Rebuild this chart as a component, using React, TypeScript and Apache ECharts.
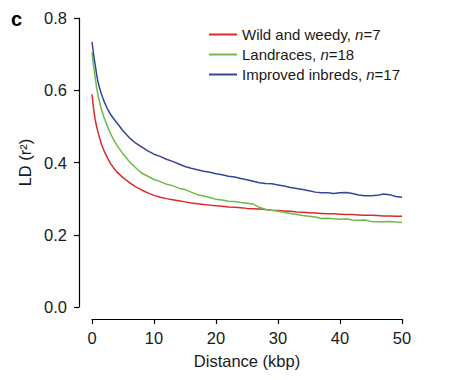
import React, { useEffect, useRef } from "react";
import * as echarts from "echarts";

const distance = [0, 0.25, 0.5, 0.75, 1, 1.5, 2, 2.5, 3, 3.5, 4, 5, 6, 7, 8, 9, 10, 11, 12, 13, 14, 15, 16, 17, 18, 19, 20, 21, 22, 23, 24, 25, 26, 27, 28, 29, 30, 31, 32, 33, 34, 35, 36, 37, 38, 39, 40, 41, 42, 43, 44, 45, 46, 47, 48, 49, 50];

const wild = [0.589, 0.55, 0.52, 0.499, 0.482, 0.452, 0.43, 0.412, 0.397, 0.385, 0.374, 0.358, 0.345, 0.333, 0.324, 0.316, 0.309, 0.304, 0.3, 0.297, 0.294, 0.291, 0.288, 0.286, 0.284, 0.282, 0.28, 0.279, 0.277, 0.276, 0.275, 0.273, 0.272, 0.271, 0.27, 0.268, 0.267, 0.266, 0.265, 0.263, 0.262, 0.261, 0.26, 0.259, 0.258, 0.258, 0.257, 0.256, 0.256, 0.255, 0.254, 0.254, 0.253, 0.252, 0.252, 0.251, 0.251];

const landraces = [0.704, 0.668, 0.636, 0.607, 0.584, 0.548, 0.522, 0.5, 0.479, 0.463, 0.448, 0.424, 0.403, 0.386, 0.371, 0.362, 0.353, 0.347, 0.34, 0.336, 0.329, 0.325, 0.318, 0.311, 0.307, 0.303, 0.298, 0.296, 0.293, 0.292, 0.289, 0.287, 0.285, 0.276, 0.27, 0.268, 0.265, 0.262, 0.259, 0.256, 0.253, 0.251, 0.249, 0.245, 0.246, 0.244, 0.243, 0.244, 0.241, 0.24, 0.241, 0.237, 0.236, 0.236, 0.237, 0.235, 0.234];

const improved = [0.734, 0.7, 0.672, 0.643, 0.62, 0.59, 0.567, 0.548, 0.533, 0.521, 0.51, 0.488, 0.469, 0.454, 0.443, 0.432, 0.423, 0.417, 0.409, 0.403, 0.396, 0.389, 0.384, 0.38, 0.376, 0.373, 0.369, 0.366, 0.362, 0.36, 0.356, 0.352, 0.348, 0.344, 0.342, 0.341, 0.338, 0.335, 0.331, 0.328, 0.325, 0.322, 0.318, 0.316, 0.316, 0.314, 0.316, 0.317, 0.314, 0.31, 0.308, 0.308, 0.309, 0.313, 0.311, 0.306, 0.304];

const seriesNames = ["Wild and weedy", "Landraces", "Improved inbreds"];
const sampleSizes = [7, 18, 17];
const colors = ["#dc2a2c", "#6cbb4a", "#34459a"];
const xTicks = [0, 10, 20, 30, 40, 50];
const yTicks = [0, 0.2, 0.4, 0.6, 0.8];

const FONT = "Liberation Sans, Arial, Helvetica, sans-serif";
const TXT = "#1a1a1a";

export default function App() {
  const ref = useRef<HTMLDivElement>(null);
  useEffect(() => {
    if (!ref.current) return;
    const chart = echarts.init(ref.current, undefined, { renderer: "svg" });
    const values = [wild, landraces, improved];
    chart.setOption({
      animation: false,
      backgroundColor: "#ffffff",
      textStyle: { fontFamily: FONT, color: TXT },
      grid: { left: 92, right: 64, top: 18, bottom: 73 },
      legend: {
        orient: "vertical",
        left: 204,
        top: 22,
        itemWidth: 28,
        itemHeight: 2,
        itemGap: 5,
        icon: "rect",
        data: seriesNames,
        formatter: (name: string) => {
          const i = seriesNames.indexOf(name);
          return `${name}, {i|n}=${sampleSizes[i]}`;
        },
        textStyle: {
          fontFamily: FONT,
          fontSize: 15,
          color: TXT,
          padding: [0, 0, 0, 0],
          rich: { i: { fontStyle: "italic", fontSize: 15, fontFamily: FONT, color: TXT } },
        },
      },
      graphic: [
        {
          type: "text",
          left: 11,
          top: 9,
          style: { text: "c", font: `bold 20px ${FONT}`, fill: "#000" },
        },
      ],
      xAxis: {
        type: "value",
        min: xTicks[0],
        max: xTicks[xTicks.length - 1],
        interval: 10,
        offset: 12,
        name: "Distance (kbp)",
        nameLocation: "middle",
        nameGap: 33,
        nameTextStyle: { fontSize: 16.5, color: TXT, fontFamily: FONT },
        axisLine: { show: true, onZero: false, lineStyle: { color: "#000", width: 1.2 } },
        axisTick: { show: true, length: 5, lineStyle: { color: "#000", width: 1.2 } },
        axisLabel: { fontSize: 16.5, color: TXT, margin: 10, fontFamily: FONT },
        splitLine: { show: false },
      },
      yAxis: {
        type: "value",
        min: yTicks[0],
        max: yTicks[yTicks.length - 1],
        interval: 0.2,
        offset: 13,
        name: "LD (r²)",
        nameLocation: "middle",
        nameRotate: 90,
        nameGap: 41,
        nameTextStyle: { fontSize: 16.5, color: TXT, fontFamily: FONT },
        axisLine: { show: true, onZero: false, lineStyle: { color: "#000", width: 1.2 } },
        axisTick: { show: true, length: 5, lineStyle: { color: "#000", width: 1.2 } },
        axisLabel: {
          fontSize: 16.5,
          color: TXT,
          margin: 12,
          fontFamily: FONT,
          formatter: (v: number) => v.toFixed(1),
        },
        splitLine: { show: false },
      },
      series: seriesNames.map((name, i) => ({
        name,
        type: "line",
        data: distance.map((d, j) => [d, values[i][j]]),
        showSymbol: false,
        symbol: "none",
        smooth: false,
        lineStyle: { color: colors[i], width: 1.5 },
        itemStyle: { color: colors[i] },
      })),
    });
    return () => chart.dispose();
  }, []);
  return <div ref={ref} style={{ width: 466, height: 380, margin: -8 }} />;
}
